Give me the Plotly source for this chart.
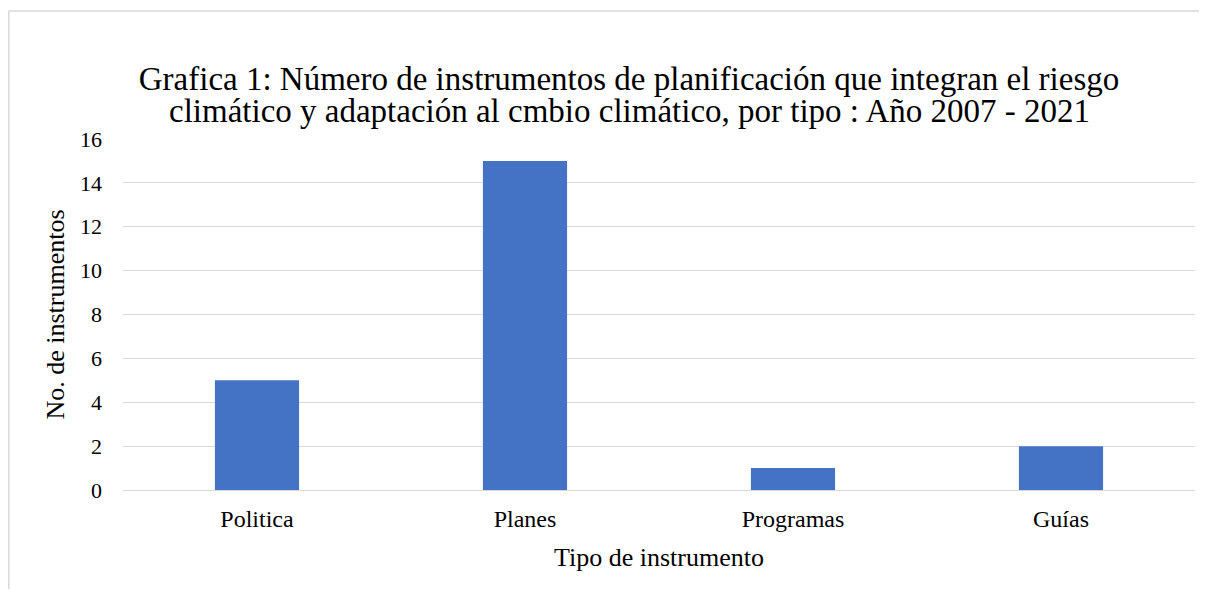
import plotly.graph_objects as go

categories = ["Politica", "Planes", "Programas", "Guías"]
values = [5, 15, 1, 2]
y_ticks = [0, 2, 4, 6, 8, 10, 12, 14, 16]
title_lines = [
    "Grafica 1: Número de instrumentos de planificación que integran el riesgo",
    "climático y adaptación al cmbio climático, por tipo : Año 2007 - 2021",
]

OFF = 8  # page body margin
W, H = 1207 - 2 * OFF, 597 - 2 * OFF
L, T = 123 - OFF, 139 - OFF
R, B = W - (1195 - OFF), H - (490 - OFF)
pw, ph = W - L - R, H - T - B

def px_x(page_x):
    return (page_x - OFF - L) / pw

def px_y(page_y):
    return 1 - (page_y - OFF - T) / ph

def cont_y(page_y):
    return 1 - (page_y - OFF) / H

serif = "Liberation Serif, Times New Roman, serif"

fig = go.Figure(go.Bar(x=categories, y=values, marker_color="#4472C4",
                       marker_line_width=0))

fig.update_layout(
    width=W, height=H,
    margin=dict(l=L, r=R, t=T, b=B, autoexpand=False),
    paper_bgcolor="white", plot_bgcolor="white",
    font=dict(family=serif, color="black"),
    bargap=0.686,
    showlegend=False,
    title=dict(
        text=title_lines[0],
        x=px_x(629), xref="paper", xanchor="center",
        y=cont_y(78), yref="container", yanchor="middle",
        font=dict(size=33, family=serif, color="black"),
    ),
    annotations=[dict(
        text=title_lines[1], showarrow=False,
        x=px_x(629), xref="paper", xanchor="center",
        y=px_y(111), yref="paper", yanchor="middle",
        font=dict(size=33, family=serif, color="black"),
    )],
    xaxis=dict(
        title=dict(text="Tipo de instrumento", font=dict(size=26), standoff=16),
        tickfont=dict(size=24),
        showgrid=False, showline=False, ticks="", ticklabelstandoff=12,
    ),
    yaxis=dict(
        title=dict(text="No. de instrumentos", font=dict(size=26), standoff=7),
        tickfont=dict(size=22),
        range=[0, 16], tickvals=y_ticks,
        showgrid=True, gridcolor="#D9D9D9", gridwidth=1.3,
        zeroline=True, zerolinecolor="#D9D9D9", zerolinewidth=1.3,
        showline=False, ticks="", ticklabelstandoff=20,
    ),
    shapes=[
        dict(type="line", xref="paper", yref="paper",
             x0=px_x(8.8), x1=px_x(8.8), y0=px_y(11), y1=px_y(620),
             line=dict(color="#D9D9D9", width=1.5), layer="below"),
        dict(type="line", xref="paper", yref="paper",
             x0=px_x(8.8), x1=px_x(1230), y0=px_y(11), y1=px_y(11),
             line=dict(color="#D9D9D9", width=1.5), layer="below"),
    ],
)

fig.write_html("out.html")
